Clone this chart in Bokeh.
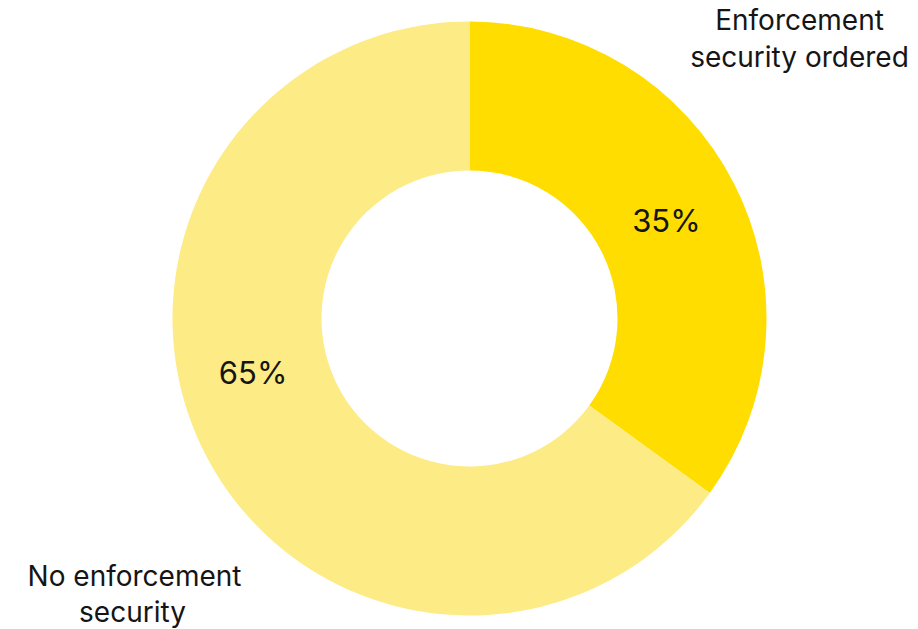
import math
from bokeh.plotting import figure
from bokeh.models import ColumnDataSource, Range1d
from bokeh.core.properties import value
from bokeh.embed import file_html
from bokeh.resources import INLINE

# data
categories = ["Enforcement security ordered", "No enforcement security"]
shares = [35, 65]
pct_labels = ["35%", "65%"]
colors = ["#FFDD00", "#FDEB85"]

W, H = 918, 629
cx, cy = 469, 311
r_out, r_in = 297, 148

# angles (clockwise from 12 o'clock)
total = sum(shares)
starts, ends = [], []
a = math.pi / 2
for s in shares:
    sweep = 2 * math.pi * s / total
    ends.append(a)
    starts.append(a - sweep)
    a -= sweep

p = figure(width=W, height=H, output_backend="svg", toolbar_location=None,
           x_range=Range1d(0, W), y_range=Range1d(0, H), min_border=0)
p.axis.visible = False
p.grid.visible = False
p.outline_line_color = None
p.background_fill_color = "white"

src = ColumnDataSource(dict(start=starts, end=ends, color=colors))
p.annular_wedge(x=cx, y=cy, inner_radius=r_in, outer_radius=r_out,
                start_angle="start", end_angle="end", direction="anticlock",
                inner_radius_units="screen", outer_radius_units="screen",
                fill_color="color", line_color=None, source=src)

# percent labels inside ring (positions by angle / radius)
lab_angles = [math.radians(26.5), math.radians(-166)]
lab_r = [220, 223]
lx = [cx + r * math.cos(t) for r, t in zip(lab_r, lab_angles)]
ly = [cy + r * math.sin(t) for r, t in zip(lab_r, lab_angles)]
p.text(x=lx, y=ly, text=pct_labels, text_align="center", text_baseline="alphabetic",
       text_font=value("Inter"), text_font_size="31px", text_color="#151515")

# category labels outside
top_lines = ["Enforcement", "security ordered"]
bot_lines = ["No enforcement", "security"]
p.text(x=[799, 799], y=[H - 19, H - 56], text=top_lines, text_align="center",
       text_baseline="alphabetic", text_font=value("Inter"), text_font_size="28px",
       text_color="#151515")
p.text(x=[134, 132], y=[H - 575, H - 611], text=bot_lines, text_align="center",
       text_baseline="alphabetic", text_font=value("Inter"), text_font_size="28px",
       text_color="#151515")

open("out.html", "w").write(file_html(p, INLINE))
